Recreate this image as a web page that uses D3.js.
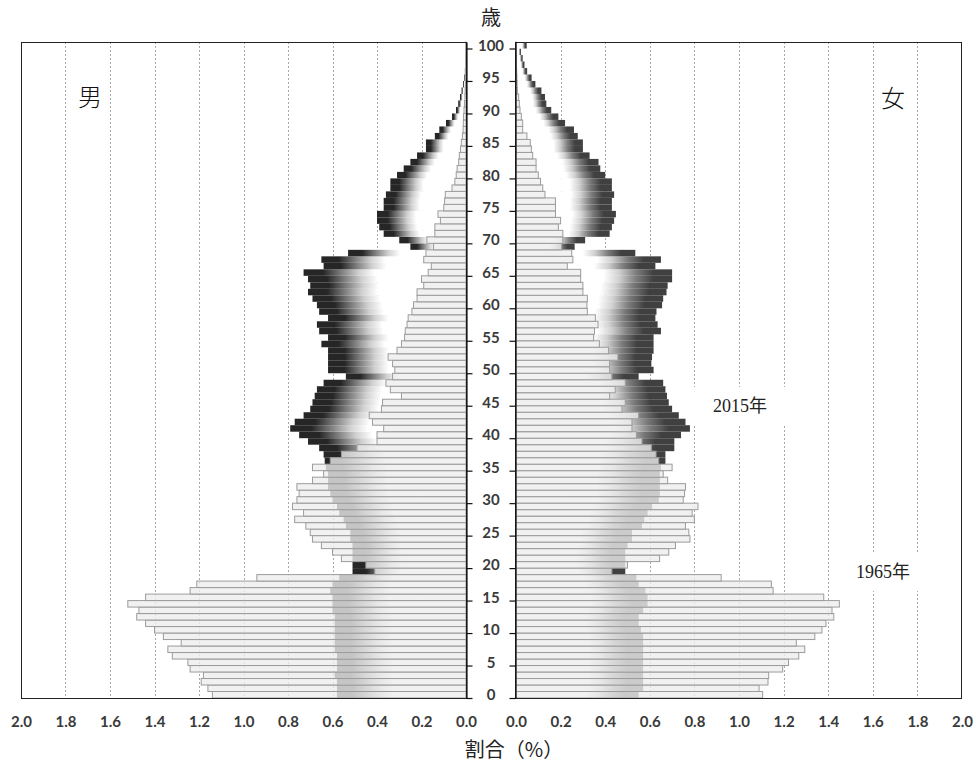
<!DOCTYPE html>
<html><head><meta charset="utf-8">
<script src="https://cdn.jsdelivr.net/npm/d3@7"></script>
<style>body{margin:0;background:#fff}svg{display:block}</style>
</head><body><svg id="c" width="976" height="766"></svg>
<script>
// ages 0..100
const ages = d3.range(0, 101);
const male1965 = [
 1.14,1.16,1.19,1.18,1.24,1.25,1.32,1.34,1.28,1.36,
 1.40,1.44,1.48,1.47,1.52,1.44,1.24,1.21,0.94,0.41,
 0.45,0.56,0.60,0.65,0.69,0.70,0.72,0.77,0.73,0.78,
 0.76,0.75,0.76,0.69,0.64,0.69,0.61,0.56,0.49,0.40,
 0.40,0.37,0.42,0.435,0.38,0.375,0.29,0.34,0.36,0.33,
 0.32,0.33,0.35,0.31,0.29,0.276,0.273,0.265,0.26,0.243,
 0.236,0.22,0.22,0.19,0.20,0.17,0.156,0.19,0.18,0.146,
 0.176,0.14,0.14,0.115,0.126,0.10,0.096,0.093,0.063,0.05,
 0.044,0.04,0.033,0.03,0.025,0.021,0.016,0.013,0.012,0.011,
 0.009,0.007,0.005,0.004,0.003,0.002,0.002,0.001,0.001,0.001,0.001];
const male2015 = [
 0.58,0.58,0.58,0.59,0.58,0.58,0.58,0.59,0.59,0.59,
 0.59,0.59,0.59,0.60,0.60,0.60,0.61,0.60,0.57,0.51,
 0.51,0.51,0.51,0.51,0.52,0.52,0.54,0.55,0.57,0.58,
 0.60,0.61,0.62,0.62,0.62,0.63,0.635,0.64,0.66,0.71,
 0.75,0.79,0.77,0.73,0.70,0.69,0.68,0.67,0.64,0.54,
 0.62,0.62,0.62,0.62,0.65,0.62,0.66,0.67,0.62,0.66,
 0.67,0.69,0.71,0.70,0.71,0.73,0.64,0.65,0.53,0.25,
 0.30,0.37,0.39,0.40,0.40,0.37,0.37,0.36,0.34,0.34,
 0.31,0.28,0.25,0.22,0.18,0.18,0.14,0.12,0.09,0.063,
 0.045,0.035,0.027,0.02,0.013,0.008,0.005,0.003,0.002,0.001,0.001];
const female1965 = [
 1.106,1.09,1.13,1.133,1.196,1.222,1.268,1.295,1.257,1.34,
 1.372,1.39,1.425,1.417,1.45,1.38,1.153,1.145,0.92,0.43,
 0.50,0.644,0.685,0.715,0.78,0.775,0.76,0.80,0.79,0.816,
 0.75,0.756,0.76,0.68,0.66,0.70,0.64,0.628,0.607,0.565,
 0.54,0.52,0.52,0.55,0.475,0.49,0.42,0.445,0.49,0.43,
 0.42,0.42,0.457,0.415,0.374,0.348,0.352,0.368,0.356,0.32,
 0.318,0.32,0.30,0.30,0.29,0.29,0.23,0.255,0.25,0.205,
 0.21,0.21,0.19,0.20,0.177,0.177,0.177,0.13,0.12,0.11,
 0.10,0.09,0.09,0.075,0.069,0.064,0.049,0.03,0.03,0.024,
 0.018,0.015,0.012,0.006,0.005,0.004,0.003,0.002,0.002,0.001,0.001];
const female2015 = [
 0.55,0.57,0.57,0.57,0.57,0.57,0.57,0.57,0.57,0.57,
 0.56,0.55,0.55,0.57,0.59,0.59,0.58,0.55,0.54,0.49,
 0.49,0.49,0.49,0.50,0.52,0.52,0.565,0.575,0.59,0.61,
 0.64,0.645,0.645,0.645,0.645,0.65,0.67,0.67,0.71,0.71,
 0.74,0.78,0.76,0.73,0.70,0.685,0.677,0.67,0.66,0.55,
 0.617,0.607,0.61,0.617,0.617,0.617,0.65,0.635,0.625,0.63,
 0.655,0.66,0.675,0.68,0.70,0.70,0.625,0.65,0.535,0.263,
 0.31,0.42,0.43,0.44,0.448,0.43,0.43,0.44,0.43,0.43,
 0.40,0.378,0.37,0.33,0.30,0.30,0.277,0.26,0.22,0.19,
 0.158,0.136,0.13,0.114,0.087,0.07,0.05,0.038,0.03,0.022,0.048];
const xTicks = [0.0,0.2,0.4,0.6,0.8,1.0,1.2,1.4,1.6,1.8,2.0];
const gridTicks = [0.2,0.4,0.6,0.8,1.0,1.2,1.4,1.6,1.8];
const ageTicks = d3.range(0, 101, 5);
const seriesLabels = ["2015年", "1965年"];
const sexLabels = ["男", "女"];

const svg = d3.select('#c');
const T = 42, B = 698;
const L0 = 21, L1 = 466, R0 = 516, R1 = 962;
const xL = d3.scaleLinear().domain([0, 2]).range([L1, L0]);
const xR = d3.scaleLinear().domain([0, 2]).range([R0, R1]);
const y = d3.scaleBand().domain(d3.range(100, -1, -1)).range([T, B]).padding(0);
const yLin = d3.scaleLinear().domain([0, 101]).range([B, T]);

// gradients
const defs = svg.append('defs');
function grad(id, x1, x2, dark) {
  const g = defs.append('linearGradient').attr('id', id)
    .attr('x1', x1).attr('x2', x2).attr('y1', 0).attr('y2', 0);
  [[0, '#ffffff'], [0.56, '#ffffff'], [0.66, '#d0d0d0'], [0.77, '#7c7c7c'], [0.88, dark], [1, dark]]
    .forEach(([o, c]) => g.append('stop').attr('offset', o).attr('stop-color', c));
}
grad('gL', 1, 0, '#262626');
grad('gR', 0, 1, '#404040');

// gridlines
const grid = svg.append('g').attr('stroke', '#a8a8a8').attr('stroke-dasharray', '2,2').attr('stroke-width', 1);
gridTicks.forEach(v => {
  grid.append('line').attr('x1', Math.round(xL(v)) + 0.5).attr('x2', Math.round(xL(v)) + 0.5).attr('y1', T).attr('y2', B);
  grid.append('line').attr('x1', Math.round(xR(v)) + 0.5).attr('x2', Math.round(xR(v)) + 0.5).attr('y1', T).attr('y2', B);
});

// 2015 bars
svg.append('g').selectAll('rect').data(ages).join('rect')
  .attr('x', a => xL(male2015[a])).attr('width', a => L1 - xL(male2015[a]))
  .attr('y', a => y(a)).attr('height', y.bandwidth()).attr('fill', 'url(#gL)');
svg.append('g').selectAll('rect').data(ages).join('rect')
  .attr('x', R0).attr('width', a => xR(female2015[a]) - R0)
  .attr('y', a => y(a)).attr('height', y.bandwidth()).attr('fill', 'url(#gR)');

// 1965 bars
const g65 = svg.append('g').attr('fill', '#eeeeee').attr('fill-opacity', 0.8)
  .attr('stroke', '#9c9c9c').attr('stroke-width', 1);
g65.selectAll('rect.m').data(ages).join('rect').attr('class', 'm')
  .attr('x', a => xL(male1965[a])).attr('width', a => L1 - xL(male1965[a]))
  .attr('y', a => y(a)).attr('height', y.bandwidth());
g65.selectAll('rect.f').data(ages).join('rect').attr('class', 'f')
  .attr('x', R0).attr('width', a => xR(female1965[a]) - R0)
  .attr('y', a => y(a)).attr('height', y.bandwidth());

// panel frames
svg.append('rect').attr('x', L0 + 0.5).attr('y', T + 0.5).attr('width', L1 - L0).attr('height', B - T)
  .attr('fill', 'none').attr('stroke', '#222').attr('stroke-width', 1);
svg.append('rect').attr('x', R0 - 0.5).attr('y', T + 0.5).attr('width', R1 - R0).attr('height', B - T)
  .attr('fill', 'none').attr('stroke', '#222').attr('stroke-width', 1);

// y axes ticks
const axL = svg.append('g').attr('transform', `translate(${L1 + 0.5},0)`)
  .call(d3.axisRight(yLin).tickValues(ageTicks).tickSize(6).tickSizeOuter(0).tickFormat(''));
const axR = svg.append('g').attr('transform', `translate(${R0 - 0.5},0)`)
  .call(d3.axisLeft(yLin).tickValues(ageTicks).tickSize(6).tickSizeOuter(0).tickFormat(''));
[axL, axR].forEach(a => { a.selectAll('line,path').attr('stroke', '#111').attr('stroke-width', 1.2); });

// age labels
svg.append('g').selectAll('text').data(ageTicks).join('text')
  .attr('x', 491).attr('y', a => y(a) + y.bandwidth() / 2).attr('dy', '0.36em')
  .attr('text-anchor', 'middle').attr('font-family', 'Lato, sans-serif').attr('font-weight', 700)
  .attr('font-size', 15).attr('fill', '#3a3a3a').text(a => a);

// x axes labels
function xAxis(scale) {
  const g = svg.append('g').attr('transform', `translate(0,${B})`)
    .call(d3.axisBottom(scale).tickValues(xTicks).tickSize(0).tickPadding(18).tickFormat(d3.format('.1f')));
  g.select('.domain').remove();
  g.selectAll('text').attr('font-family', 'Lato, sans-serif').attr('font-weight', 700)
    .attr('font-size', 15).attr('fill', '#3a3a3a');
}
xAxis(xL); xAxis(xR);

// titles
const cjk = '"Noto Sans CJK JP", sans-serif';
svg.append('text').attr('x', 491).attr('y', 25).attr('text-anchor', 'middle')
  .attr('font-family', cjk).attr('font-size', 20).attr('fill', '#222').text('歳');
svg.append('text').attr('x', 514).attr('y', 757).attr('text-anchor', 'middle')
  .attr('font-family', cjk).attr('font-size', 20).attr('fill', '#222').text('割合（%）');
svg.append('text').attr('x', 90).attr('y', 106).attr('text-anchor', 'middle')
  .attr('font-family', cjk).attr('font-weight', 300).attr('font-size', 24).attr('fill', '#111').text(sexLabels[0]);
svg.append('text').attr('x', 893).attr('y', 107).attr('text-anchor', 'middle')
  .attr('font-family', cjk).attr('font-weight', 300).attr('font-size', 24).attr('fill', '#111').text(sexLabels[1]);

// series labels with white boxes
function boxLabel(txt, cx, cy, w, h) {
  svg.append('rect').attr('x', cx - w / 2).attr('y', cy - h / 2).attr('width', w).attr('height', h).attr('fill', '#fff');
  svg.append('text').attr('x', cx).attr('y', cy).attr('dy', '0.36em').attr('text-anchor', 'middle')
    .attr('font-family', '"Liberation Serif", "Noto Sans CJK JP", serif').attr('font-size', 18)
    .attr('fill', '#222').text(txt);
}
boxLabel(seriesLabels[0], 740, 406, 92, 38);
boxLabel(seriesLabels[1], 883, 572, 90, 38);
</script></body></html>
